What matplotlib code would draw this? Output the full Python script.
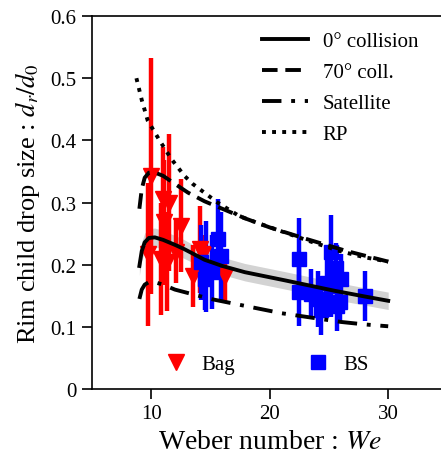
import matplotlib
matplotlib.use("Agg")
import matplotlib.pyplot as plt
from matplotlib.lines import Line2D
from matplotlib.ticker import FixedLocator, FuncFormatter

plt.rcParams["font.family"] = ["Liberation Serif", "DejaVu Serif"]
plt.rcParams["mathtext.fontset"] = "stix"

# model curves
we_0deg = [9.0, 9.2, 9.45, 9.8, 10.3, 11.0, 12.0, 12.8, 14.5, 16.0, 17.9, 21.25, 23.5, 25.5, 28.0, 30.0]
d_0deg = [0.198, 0.222, 0.236, 0.243, 0.244, 0.240, 0.232, 0.225, 0.208, 0.198, 0.188, 0.175, 0.166, 0.158, 0.149, 0.142]
band_lo = [0.183, 0.207, 0.221, 0.228, 0.229, 0.225, 0.217, 0.210, 0.194, 0.184, 0.174, 0.161, 0.152, 0.144, 0.135, 0.128]
band_hi = [0.213, 0.237, 0.251, 0.258, 0.259, 0.255, 0.247, 0.240, 0.222, 0.212, 0.202, 0.189, 0.180, 0.172, 0.163, 0.156]

we_70deg = [9.0, 9.2, 9.45, 9.8, 10.2, 11.0, 12.0, 13.1, 14.5, 16.0, 18.0, 20.0, 23.0, 26.5, 30.0]
d_70deg = [0.290, 0.322, 0.340, 0.348, 0.349, 0.343, 0.330, 0.316, 0.302, 0.290, 0.274, 0.260, 0.242, 0.222, 0.205]

we_sat = [9.0, 9.2, 9.45, 9.8, 10.1, 11.0, 12.0, 13.0, 15.0, 17.6, 21.0, 23.5, 26.0, 28.0, 30.0]
d_sat = [0.145, 0.160, 0.168, 0.172, 0.173, 0.168, 0.160, 0.155, 0.145, 0.135, 0.122, 0.115, 0.108, 0.104, 0.101]

we_rp = [8.75, 9.2, 9.7, 10.7, 11.7, 12.8, 13.5, 15.6, 17.45, 19.0, 21.25, 23.5, 25.9, 28.0, 30.0]
d_rp = [0.500, 0.465, 0.432, 0.400, 0.370, 0.343, 0.330, 0.300, 0.278, 0.267, 0.252, 0.237, 0.222, 0.212, 0.205]

# experiments
bag_we = [9.95, 9.7, 11.0, 11.5, 11.1, 10.85, 11.3, 12.5, 12.1, 14.1, 13.5, 16.2, 14.4]
bag_d = [0.343, 0.217, 0.305, 0.300, 0.268, 0.209, 0.205, 0.263, 0.220, 0.225, 0.182, 0.182, 0.218]
bag_err = [0.19, 0.115, 0.085, 0.11, 0.10, 0.09, 0.08, 0.075, 0.05, 0.07, 0.05, 0.04, 0.03]

bs_we = [14.2, 14.6, 15.6, 15.9, 14.5, 15.1, 22.5, 22.5, 23.5, 24.1, 25.2, 25.2, 24.3, 25.7, 25.6, 26.0, 25.9, 28.0, 24.8]
bs_d = [0.204, 0.197, 0.241, 0.214, 0.177, 0.188, 0.210, 0.156, 0.153, 0.145, 0.220, 0.166, 0.127, 0.134, 0.195, 0.177, 0.140, 0.150, 0.170]
bs_err = [0.06, 0.073, 0.065, 0.07, 0.05, 0.06, 0.065, 0.055, 0.04, 0.045, 0.06, 0.05, 0.04, 0.04, 0.04, 0.04, 0.03, 0.04, 0.05]

fig = plt.figure(figsize=(4.41, 4.6), dpi=100)
ax = fig.add_axes([0.2086, 0.152, 0.806, 0.811])

ax.fill_between(we_0deg, band_lo, band_hi, color="#d3d3d3", lw=0, zorder=1)

ax.errorbar(bag_we, bag_d, yerr=bag_err, fmt="v", color="red", ms=11,
            elinewidth=3.2, capsize=0, zorder=3)
ax.errorbar(bs_we, bs_d, yerr=bs_err, fmt="s", color="blue", ms=10,
            elinewidth=3.2, capsize=0, zorder=3)

l0, = ax.plot(we_0deg, d_0deg, "k-", lw=2.8, zorder=4)
l70, = ax.plot(we_70deg, d_70deg, color="k", lw=2.8, ls=(0, (4, 2)), zorder=4)
lsat, = ax.plot(we_sat, d_sat, color="k", lw=2.8, ls=(0, (5, 2.5, 1, 2.5)), zorder=4)
lrp, = ax.plot(we_rp, d_rp, color="k", lw=2.8, ls=(0, (1, 1.6)), zorder=4)

leg1 = ax.legend([l0, l70, lsat, lrp], ["0° collision", "70° coll.", "Satellite", "RP"],
                 loc="upper right", bbox_to_anchor=(0.962, 1.0), frameon=False,
                 fontsize=15, handlelength=2.2, labelspacing=0.55, borderaxespad=0.35,
                 handletextpad=0.7)
ax.add_artist(leg1)

hb = Line2D([], [], marker="v", color="red", ls="none", ms=11)
hs = Line2D([], [], marker="s", color="blue", ls="none", ms=10)
ax.legend([hb, hs], ["Bag", "BS"], loc="lower left", bbox_to_anchor=(0.125, -0.01),
          ncol=2, frameon=False, fontsize=15, columnspacing=3.0, handletextpad=0.2)

ax.set_xlim(5, 35)
ax.set_ylim(0, 0.6)
ax.xaxis.set_major_locator(FixedLocator([10, 20, 30]))
ax.yaxis.set_major_locator(FixedLocator([0, 0.1, 0.2, 0.3, 0.4, 0.5, 0.6]))
ax.yaxis.set_major_formatter(FuncFormatter(lambda v, p: f"{v:g}"))
ax.tick_params(direction="out", length=7, width=1.2, labelsize=15, pad=4)
ax.spines["right"].set_visible(False)
for s in ["left", "top", "bottom"]:
    ax.spines[s].set_linewidth(1.2)

ax.set_xlabel("Weber number : $We$", fontsize=20, labelpad=4)
ax.set_ylabel("Rim child drop size : $d_r/d_0$", fontsize=19, labelpad=6)

fig.savefig("out.png", dpi=100)
